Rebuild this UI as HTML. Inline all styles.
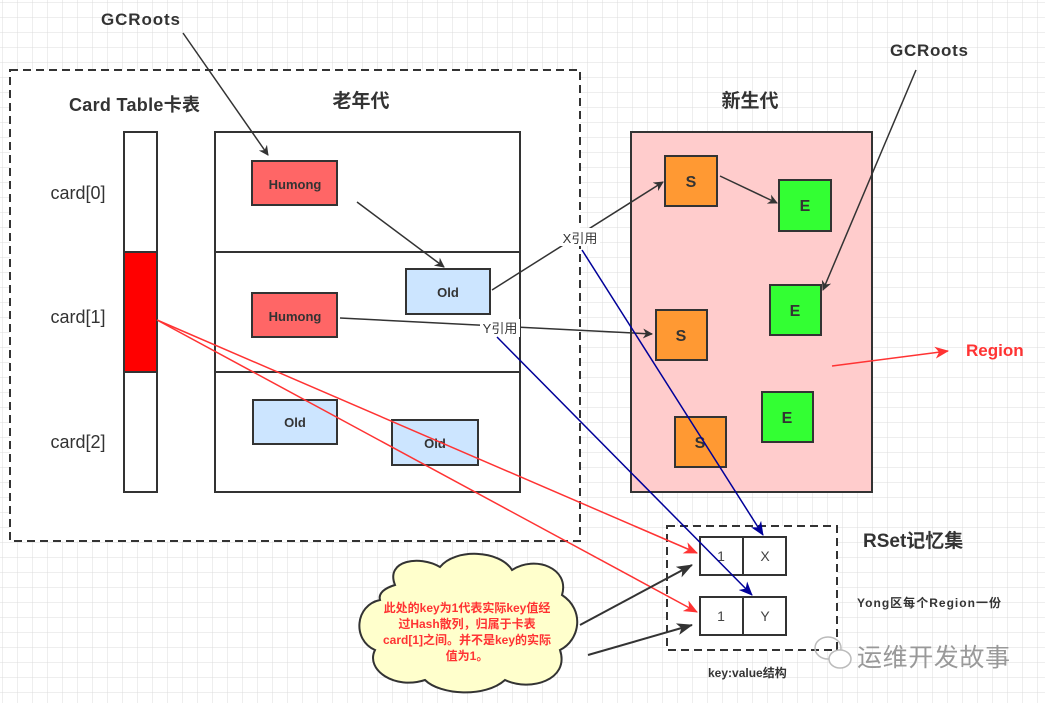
<!DOCTYPE html>
<html><head><meta charset="utf-8"><style>
html,body{margin:0;padding:0;background:#fff}
svg{display:block}
text{font-family:"Liberation Sans","Noto Sans CJK SC",sans-serif}
</style></head><body>
<svg width="1045" height="703" viewBox="0 0 1045 703" xmlns="http://www.w3.org/2000/svg">
<defs>
<pattern id="g" x="3" y="3" width="15" height="15" patternUnits="userSpaceOnUse">
<path d="M15 0V15M0 15H15" fill="none" stroke="#dcdcdc" stroke-width="1"/>
</pattern>
<marker id="ad" markerWidth="10" markerHeight="10" refX="9" refY="5" orient="auto" markerUnits="userSpaceOnUse"><path d="M0,0L10,5L0,10L3,5z" fill="#333"/></marker>
<marker id="ar" markerWidth="14" markerHeight="12" refX="13" refY="6" orient="auto" markerUnits="userSpaceOnUse"><path d="M0,0L14,6L0,12L4,6z" fill="#ff3333"/></marker>
<marker id="ab" markerWidth="14" markerHeight="12" refX="13" refY="6" orient="auto" markerUnits="userSpaceOnUse"><path d="M0,0L14,6L0,12L4,6z" fill="#000099"/></marker>
<marker id="ak" markerWidth="16" markerHeight="12" refX="15" refY="6" orient="auto" markerUnits="userSpaceOnUse"><path d="M0,0L16,6L0,12L4,6z" fill="#333"/></marker>
</defs>
<rect width="1045" height="703" fill="url(#g)"/>

<rect x="10" y="70" width="570" height="471" fill="#fff" stroke="#333" stroke-width="2" stroke-dasharray="8,5"/>
<text x="69" y="111" font-size="18" font-weight="bold" fill="#333" textLength="131">Card Table卡表</text>
<text x="361" y="107" font-size="19" font-weight="bold" fill="#333" text-anchor="middle">老年代</text>
<rect x="124" y="132" width="33" height="360" fill="#fff" stroke="#333" stroke-width="2"/>
<rect x="124" y="252" width="33" height="120" fill="#ff0000" stroke="#333" stroke-width="2"/>
<text x="78" y="199" font-size="18" fill="#333" text-anchor="middle">card[0]</text>
<text x="78" y="323" font-size="18" fill="#333" text-anchor="middle">card[1]</text>
<text x="78" y="448" font-size="18" fill="#333" text-anchor="middle">card[2]</text>

<rect x="215" y="132" width="305" height="360" fill="#fff" stroke="#333" stroke-width="2"/>
<line x1="215" y1="252" x2="520" y2="252" stroke="#333" stroke-width="2"/>
<line x1="215" y1="372" x2="520" y2="372" stroke="#333" stroke-width="2"/>
<rect x="252" y="161" width="85" height="44" fill="#ff6666" stroke="#333" stroke-width="2"/>
<text x="295" y="189" font-size="13" font-weight="bold" fill="#333" text-anchor="middle">Humong</text>
<rect x="252" y="293" width="85" height="44" fill="#ff6666" stroke="#333" stroke-width="2"/>
<text x="295" y="321" font-size="13" font-weight="bold" fill="#333" text-anchor="middle">Humong</text>
<rect x="406" y="269" width="84" height="45" fill="#cce5ff" stroke="#333" stroke-width="2"/>
<text x="448" y="297" font-size="13" font-weight="bold" fill="#333" text-anchor="middle">Old</text>
<rect x="253" y="400" width="84" height="44" fill="#cce5ff" stroke="#333" stroke-width="2"/>
<text x="295" y="427" font-size="13" font-weight="bold" fill="#333" text-anchor="middle">Old</text>
<rect x="392" y="420" width="86" height="45" fill="#cce5ff" stroke="#333" stroke-width="2"/>
<text x="435" y="448" font-size="13" font-weight="bold" fill="#333" text-anchor="middle">Old</text>

<text x="750" y="107" font-size="19" font-weight="bold" fill="#333" text-anchor="middle">新生代</text>
<rect x="631" y="132" width="241" height="360" fill="#ffcccc" stroke="#333" stroke-width="2"/>
<g stroke="#333" stroke-width="2">
<rect x="665" y="156" width="52" height="50" fill="#ff9933"/>
<rect x="656" y="310" width="51" height="50" fill="#ff9933"/>
<rect x="675" y="417" width="51" height="50" fill="#ff9933"/>
<rect x="779" y="180" width="52" height="51" fill="#33ff33"/>
<rect x="770" y="285" width="51" height="50" fill="#33ff33"/>
<rect x="762" y="392" width="51" height="50" fill="#33ff33"/>
</g>
<g font-size="16" font-weight="bold" fill="#333" text-anchor="middle">
<text x="691" y="187">S</text><text x="681" y="341">S</text><text x="700" y="448">S</text>
<text x="805" y="211">E</text><text x="795" y="316">E</text><text x="787" y="423">E</text>
</g>

<text x="101" y="25" font-size="17" font-weight="bold" fill="#333" textLength="79">GCRoots</text>
<text x="890" y="56" font-size="17" font-weight="bold" fill="#333" textLength="78">GCRoots</text>

<g stroke="#333" stroke-width="1.5" fill="none">
<line x1="183" y1="33" x2="268" y2="155" marker-end="url(#ad)"/>
<line x1="916" y1="70" x2="823" y2="290" marker-end="url(#ad)"/>
<line x1="357" y1="202" x2="444" y2="267" marker-end="url(#ad)"/>
<line x1="720" y1="176" x2="777" y2="203" marker-end="url(#ad)"/>
<polyline points="492,290 663,182" marker-end="url(#ad)"/>
<polyline points="340,318 652,334" marker-end="url(#ad)"/>
</g>
<rect x="560" y="228" width="40" height="18" fill="#fff"/>
<text x="580" y="243" font-size="13" fill="#333" text-anchor="middle">X引用</text>
<rect x="480" y="319" width="40" height="18" fill="#fff"/>
<text x="500" y="333" font-size="13" fill="#333" text-anchor="middle">Y引用</text>

<line x1="832" y1="366" x2="948" y2="351" stroke="#ff3333" stroke-width="1.5" marker-end="url(#ar)"/>
<text x="966" y="356" font-size="17" font-weight="bold" fill="#ff3333">Region</text>

<rect x="667" y="526" width="170" height="124" fill="#fff" stroke="#333" stroke-width="2" stroke-dasharray="8,5"/>
<g stroke="#333" stroke-width="2" fill="#fff">
<rect x="700" y="537" width="86" height="38"/><line x1="743" y1="537" x2="743" y2="575"/>
<rect x="700" y="597" width="86" height="38"/><line x1="743" y1="597" x2="743" y2="635"/>
</g>
<g font-size="14" fill="#444" text-anchor="middle">
<text x="721" y="561">1</text><text x="765" y="561">X</text>
<text x="721" y="621">1</text><text x="765" y="621">Y</text>
</g>
<text x="863" y="547" font-size="19" font-weight="bold" fill="#333">RSet记忆集</text>
<text x="857" y="607" font-size="12" font-weight="bold" fill="#333" textLength="144">Yong区每个Region一份</text>
<text x="708" y="677" font-size="12" font-weight="bold" fill="#333">key:value结构</text>

<g stroke="#ff3333" stroke-width="1.5" fill="none">
<line x1="157" y1="320" x2="697" y2="553" marker-end="url(#ar)"/>
<line x1="157" y1="320" x2="697" y2="612" marker-end="url(#ar)"/>
</g>
<g stroke="#000099" stroke-width="1.5" fill="none">
<line x1="582" y1="250" x2="763" y2="535" marker-end="url(#ab)"/>
<line x1="497" y1="337" x2="752" y2="595" marker-end="url(#ab)"/>
</g>

<path d="M395,585 C385,560 420,555 440,567 C455,548 500,550 512,570 C535,555 570,568 562,595 C585,610 580,640 560,650 C570,680 530,692 505,680 C485,698 440,695 425,680 C395,690 365,670 375,650 C352,640 355,605 380,600 C378,593 385,588 395,585 Z" fill="#ffffcc" stroke="#333" stroke-width="2"/>
<g font-size="12" font-weight="bold" fill="#ff3333" text-anchor="middle">
<text x="467" y="612">此处的key为1代表实际key值经</text>
<text x="467" y="628">过Hash散列，归属于卡表</text>
<text x="467" y="644">card[1]之间。并不是key的实际</text>
<text x="467" y="660">值为1。</text>
</g>
<g stroke="#333" stroke-width="2" fill="none">
<line x1="580" y1="625" x2="692" y2="565" marker-end="url(#ak)"/>
<line x1="588" y1="655" x2="692" y2="625" marker-end="url(#ak)"/>
</g>

<g fill="none" stroke="#bbb" stroke-width="1.5">
<ellipse cx="828" cy="648" rx="13" ry="11"/>
<ellipse cx="840" cy="659" rx="11" ry="9" fill="#fff"/>
</g>
<text x="857" y="666" font-size="25" fill="#999" textLength="153">运维开发故事</text>
</svg>
</body></html>
